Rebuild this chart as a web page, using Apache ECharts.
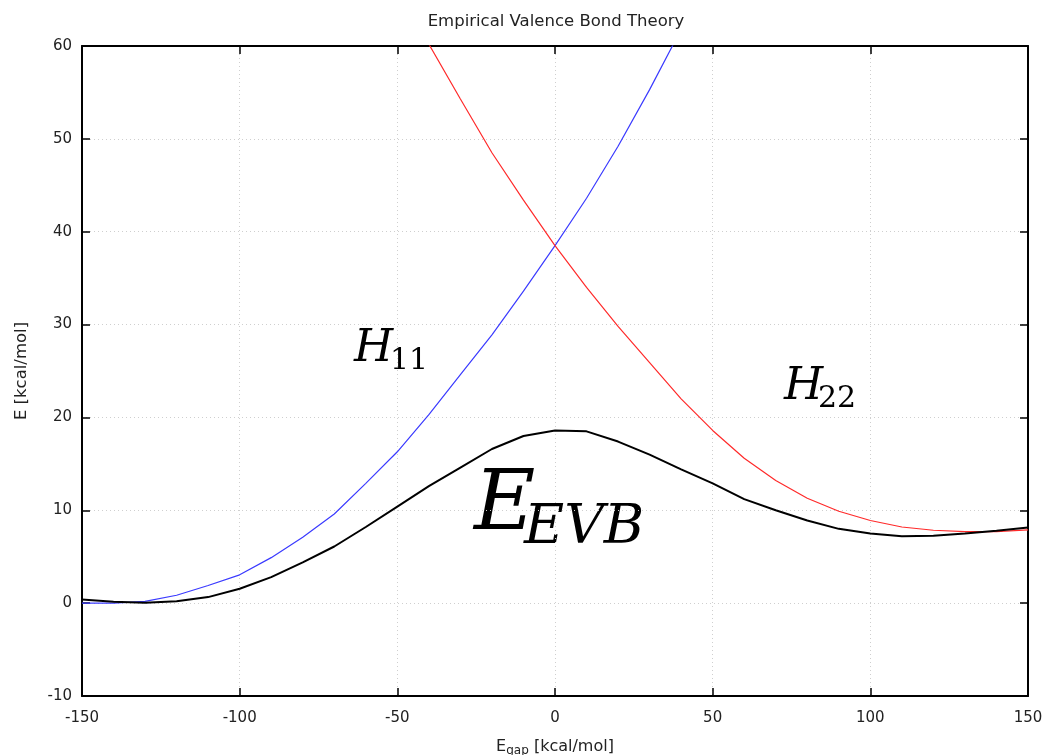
<!DOCTYPE html>
<html lang="en">
<head>
    <meta charset="UTF-8">
    <title>Empirical Valence Bond Theory</title>
    <script src="https://cdn.jsdelivr.net/npm/echarts@6/dist/echarts.min.js"></script>
    <style>
        body { margin: 0; background: #fff; }
    </style>
</head>
<body>
        <div id="main" style="width: 1050px;height:755px;"></div>
        <script type="text/javascript">
            // values, E in kcal/mol
            var xH11 = [-150, -140, -130, -120, -110, -100, -90, -80, -70, -60, -50, -40, -30, -20, -10, 0, 10, 20, 30, 40];
            var yH11 = [0.0, 0.0, 0.2, 0.85, 1.9, 3.05, 4.9, 7.1, 9.6, 12.9, 16.3, 20.3, 24.6, 28.9, 33.6, 38.5, 43.6, 49.2, 55.3, 61.8];

            var xH22 = [-40, -30, -20, -10, 0, 10, 20, 30, 40, 50, 60, 70, 80, 90, 100, 110, 120, 130, 140, 150];
            var yH22 = [60.2, 54.3, 48.5, 43.4, 38.5, 34.0, 29.8, 25.9, 22.0, 18.6, 15.6, 13.2, 11.3, 9.9, 8.9, 8.2, 7.85, 7.7, 7.7, 7.9];

            var xEVB = [-150, -140, -130, -120, -110, -100, -90, -80, -70, -60, -50, -40, -30, -20, -10, 0, 10, 20, 30, 40, 50, 60, 70, 80, 90, 100, 110, 120, 130, 140, 150];
            var yEVB = [0.4, 0.15, 0.05, 0.2, 0.65, 1.55, 2.8, 4.4, 6.1, 8.2, 10.4, 12.6, 14.6, 16.6, 18.0, 18.6, 18.5, 17.4, 16.0, 14.4, 12.9, 11.2, 10.0, 8.9, 8.0, 7.5, 7.2, 7.25, 7.5, 7.8, 8.15];

            var xTicks = { min: -150, max: 150, interval: 50 };
            var yTicks = { min: -10, max: 60, interval: 10 };

            function pairs(xs, ys) {
                var out = [];
                for (var i = 0; i < xs.length; i++) {
                    out.push([xs[i], ys[i]]);
                }
                return out;
            }

            var font = 'DejaVu Sans';
            var mathFont = 'DejaVu Serif';
            var frame = { show: true, onZero: false, lineStyle: { color: '#000', width: 2 } };
            var tick = { inside: true, length: 8, lineStyle: { color: '#000', width: 1.5 } };
            var grid = { lineStyle: { color: '#cfcfcf', type: [1, 3] } };

            var myChart = echarts.init(document.getElementById('main'));
            var option = {
                animation: false,
                title: {
                    text: 'Empirical Valence Bond Theory',
                    left: 551,
                    top: 8,
                    textAlign: 'center',
                    textStyle: { fontFamily: font, fontSize: 16.5, fontWeight: 'normal', color: '#222' }
                },
                grid: { left: 82, right: 22, top: 46, bottom: 59, outerBoundsMode: 'none' },
                xAxis: [{
                    type: 'value',
                    min: xTicks.min, max: xTicks.max, interval: xTicks.interval,
                    name: '{e|E}{s|gap}{e| [kcal/mol]}',
                    nameLocation: 'middle',
                    nameGap: 40,
                    nameTextStyle: {
                        rich: {
                            e: { fontFamily: font, fontSize: 16, color: '#222' },
                            s: { fontFamily: font, fontSize: 12, color: '#222', padding: [9, 0, 0, 0] }
                        }
                    },
                    axisLine: frame,
                    axisTick: tick,
                    axisLabel: { fontFamily: font, fontSize: 15, color: '#222', margin: 15 },
                    splitLine: grid
                }, {
                    type: 'value', position: 'top',
                    min: xTicks.min, max: xTicks.max, interval: xTicks.interval,
                    axisLine: frame,
                    axisTick: tick,
                    axisLabel: { show: false },
                    splitLine: { show: false }
                }],
                yAxis: [{
                    type: 'value',
                    min: yTicks.min, max: yTicks.max, interval: yTicks.interval,
                    name: 'E [kcal/mol]',
                    nameLocation: 'middle',
                    nameGap: 52,
                    nameTextStyle: { fontFamily: font, fontSize: 16.5, color: '#222' },
                    axisLine: frame,
                    axisTick: tick,
                    axisLabel: { fontFamily: font, fontSize: 15, color: '#222', margin: 10 },
                    splitLine: grid
                }, {
                    type: 'value', position: 'right',
                    min: yTicks.min, max: yTicks.max, interval: yTicks.interval,
                    axisLine: frame,
                    axisTick: tick,
                    axisLabel: { show: false },
                    splitLine: { show: false }
                }],
                series: [{
                    name: 'H11', type: 'line', showSymbol: false, clip: true,
                    data: pairs(xH11, yH11),
                    lineStyle: { color: '#3a3aff', width: 1.2 }
                }, {
                    name: 'H22', type: 'line', showSymbol: false, clip: true,
                    data: pairs(xH22, yH22),
                    lineStyle: { color: '#ff2a2a', width: 1.2 }
                }, {
                    name: 'EVB', type: 'line', showSymbol: false, clip: true,
                    data: pairs(xEVB, yEVB),
                    lineStyle: { color: '#000', width: 2 }
                }],
                graphic: [
                    { type: 'text', left: 354, top: 327, style: { text: 'H', font: 'italic 45px ' + mathFont, fill: '#000' } },
                    { type: 'text', left: 390, top: 346, style: { text: '11', font: '30px ' + mathFont, fill: '#000' } },
                    { type: 'text', left: 784, top: 365, style: { text: 'H', font: 'italic 45px ' + mathFont, fill: '#000' } },
                    { type: 'text', left: 818, top: 384, style: { text: '22', font: '30px ' + mathFont, fill: '#000' } },
                    { type: 'text', left: 474, top: 465, style: { text: 'E', font: 'italic 84px ' + mathFont, fill: '#000' } },
                    { type: 'text', left: 524, top: 501, style: { text: 'EVB', font: 'italic 55px ' + mathFont, fill: '#000' } }
                ]
            };
            myChart.setOption(option);
        </script>

</body>
</html>
